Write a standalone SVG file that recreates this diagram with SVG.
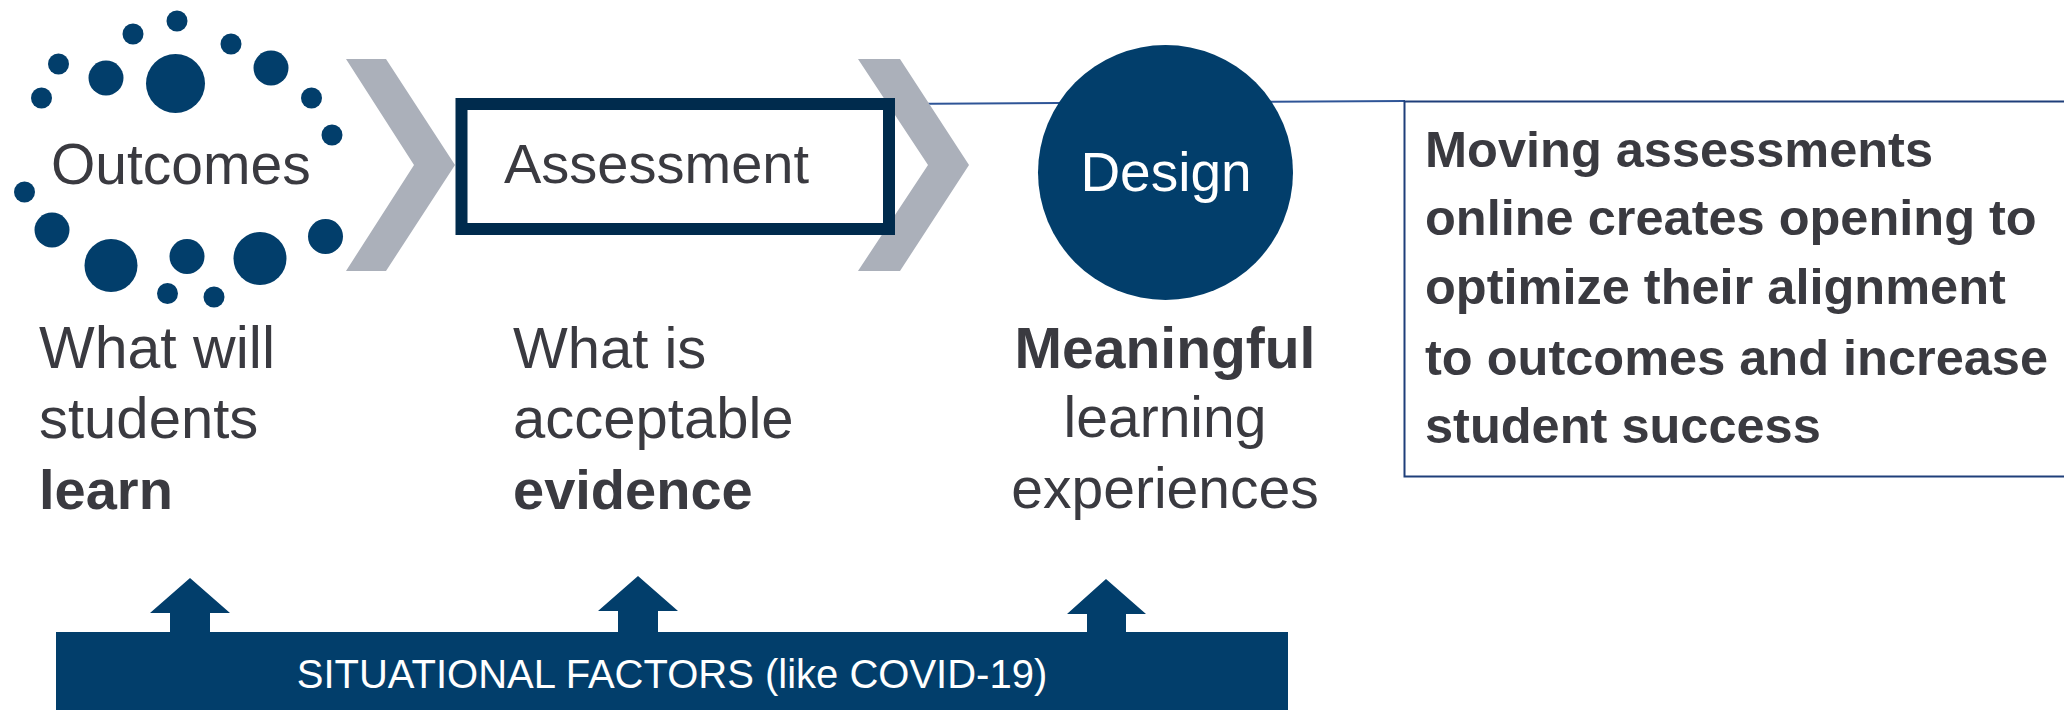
<svg xmlns="http://www.w3.org/2000/svg" width="2064" height="710" viewBox="0 0 2064 710">
<style>
.dot{fill:#023E6B}
.chev{fill:#ABB0BA}
.t{font-family:"Liberation Sans",Arial,sans-serif;fill:#3A3A40}
.b{font-weight:bold}
.w{fill:#FFFFFF}
.navy{fill:#023E6B}
</style>
<rect width="2064" height="710" fill="#FFFFFF"/>
<g id="connectors">
<line x1="890" y1="104" x2="1405" y2="101" stroke="#2F5597" stroke-width="2"/>
<polygon class="navy" points="190,578 230,613 210,613 210,634 170,634 170,613 150,613"/>
<polygon class="navy" points="638,576 678,611 658,611 658,634 618,634 618,611 598,611"/>
<polygon class="navy" points="1106,579 1146,614 1126,614 1126,634 1087,634 1087,614 1067,614"/>
</g>
<g id="outcomes">
<circle class="dot" cx="177" cy="21" r="10.5"/>
<circle class="dot" cx="133" cy="34" r="10.5"/>
<circle class="dot" cx="231" cy="44" r="10.5"/>
<circle class="dot" cx="58.5" cy="64" r="10.5"/>
<circle class="dot" cx="106" cy="78" r="17.5"/>
<circle class="dot" cx="175.5" cy="83.5" r="29.5"/>
<circle class="dot" cx="271" cy="68" r="17.5"/>
<circle class="dot" cx="41.5" cy="98" r="10.5"/>
<circle class="dot" cx="311.5" cy="98" r="10.5"/>
<circle class="dot" cx="332" cy="135" r="10.5"/>
<circle class="dot" cx="24.5" cy="192" r="10.5"/>
<circle class="dot" cx="52" cy="230" r="17.5"/>
<circle class="dot" cx="111" cy="265.5" r="26.5"/>
<circle class="dot" cx="187" cy="256.5" r="17.5"/>
<circle class="dot" cx="260" cy="258.5" r="26.5"/>
<circle class="dot" cx="325.5" cy="236.5" r="17.5"/>
<circle class="dot" cx="167.5" cy="293.5" r="10.5"/>
<circle class="dot" cx="214" cy="297" r="10.5"/>
<text class="t" x="51" y="184" font-size="57">Outcomes</text>
<text class="t" x="39" y="368" font-size="59">What will</text>
<text class="t" x="39" y="438" font-size="58">students</text>
<text class="t b" x="39" y="509" font-size="56">learn</text>
</g>
<g id="chevron1">
<polygon class="chev" points="346,59 386,59 455,165 386,271 346,271 414,165"/>
</g>
<g id="chevron2">
<polygon class="chev" points="858,59 900,59 969,165 900,271 858,271 928,165"/>
</g>
<g id="assessment">
<rect x="461.5" y="104" width="427.5" height="125" fill="none" stroke="#002B4D" stroke-width="12"/>
<text class="t" x="504" y="183" font-size="56">Assessment</text>
<text class="t" x="513" y="368" font-size="58">What is</text>
<text class="t" x="513" y="438" font-size="58">acceptable</text>
<text class="t b" x="513" y="509" font-size="56">evidence</text>
</g>
<g id="design">
<circle class="navy" cx="1165.5" cy="172.5" r="127.5"/>
<text class="t w" x="1166" y="191" font-size="55" text-anchor="middle">Design</text>
<text class="t b" x="1165" y="368" font-size="57" text-anchor="middle">Meaningful</text>
<text class="t" x="1165" y="437" font-size="57" text-anchor="middle">learning</text>
<text class="t" x="1165" y="508" font-size="57" text-anchor="middle">experiences</text>
</g>
<g id="callout">
<rect x="1404.5" y="101.5" width="700" height="375" fill="#FFFFFF" stroke="#1F3F7A" stroke-width="2"/>
<text class="t b" x="1425" y="167" font-size="50.5">Moving assessments</text>
<text class="t b" x="1425" y="235" font-size="50.5">online creates opening to</text>
<text class="t b" x="1425" y="304" font-size="50.5">optimize their alignment</text>
<text class="t b" x="1425" y="375" font-size="50.5">to outcomes and increase</text>
<text class="t b" x="1425" y="443" font-size="50.5">student success</text>
</g>
<g id="situational">
<rect class="navy" x="56" y="632" width="1232" height="90"/>
<text class="t w" x="672" y="688" font-size="40" text-anchor="middle">SITUATIONAL FACTORS (like COVID-19)</text>
</g>
</svg>
